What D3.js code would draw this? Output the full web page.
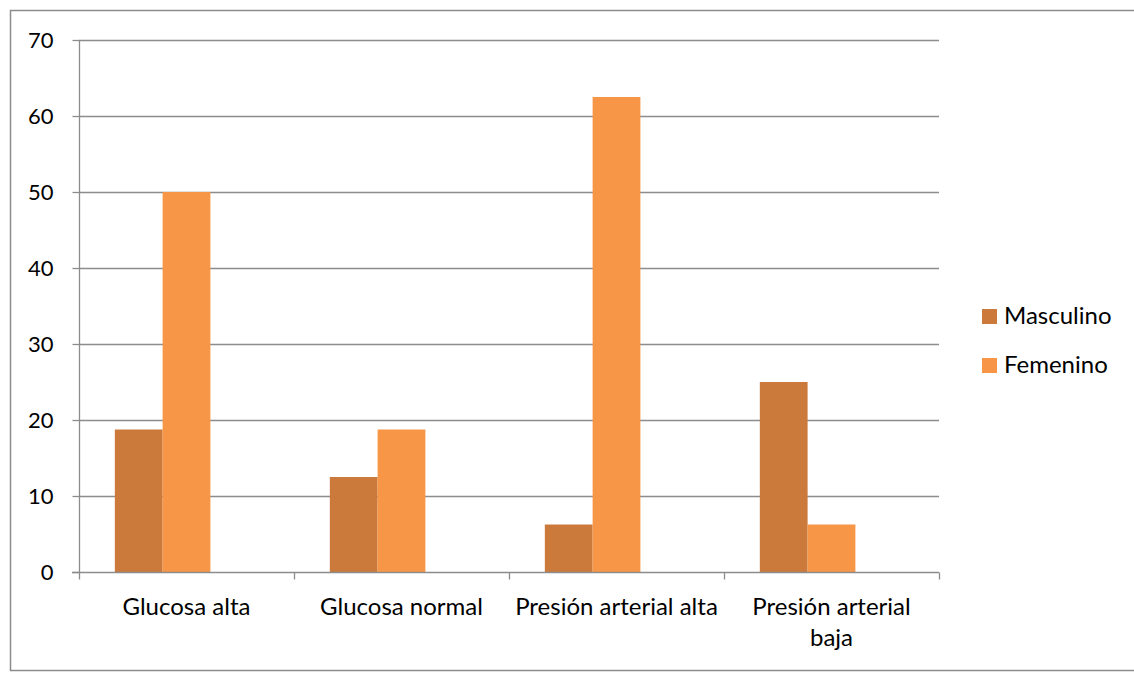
<!DOCTYPE html>
<html><head><meta charset="utf-8">
<script src="https://cdn.jsdelivr.net/npm/d3@7"></script>
<style>body{margin:0;background:#fff}svg{display:block}text{font-family:Lato,"Noto Sans",sans-serif;fill:#000}</style>
</head><body>
<svg id="c" width="1134" height="673"></svg>
<script>
const categories = ["Glucosa alta", "Glucosa normal", "Presión arterial alta", "Presión arterial baja"];
const seriesNames = ["Masculino", "Femenino"];
const masculino = [18.75, 12.5, 6.25, 25];
const femenino = [50, 18.75, 62.5, 6.25];
const yTicks = [0, 10, 20, 30, 40, 50, 60, 70];
const colors = ["#CB7A3B", "#F79646"];

const svg = d3.select("#c");
svg.append("rect").attr("x", 10.5).attr("y", 10.5).attr("width", 1130).attr("height", 660)
  .attr("fill", "none").attr("stroke", "#8c8c8c").attr("stroke-width", 1.5);

const L = 79, R = 939, T = 40, B = 572;
const x = d3.scaleBand().domain(categories).range([L, R]);
const y = d3.scaleLinear().domain([0, 70]).range([B, T]);
const slotCount = 3; // includes an empty slot as in the original layout
const bw = x.bandwidth() / (slotCount + 1.5);
const xs = d3.scaleBand().domain(d3.range(slotCount)).range([bw * 0.75, bw * 0.75 + bw * slotCount]);

// gridlines
svg.append("g").selectAll("line").data(yTicks.filter(d => d > 0)).join("line")
  .attr("x1", L).attr("x2", R).attr("y1", d => Math.round(y(d)) + 0.5).attr("y2", d => Math.round(y(d)) + 0.5)
  .attr("stroke", "#8c8c8c").attr("stroke-width", 1.3);

// bars
const data = [masculino, femenino];
data.forEach((vals, si) => {
  svg.append("g").selectAll("rect").data(vals).join("rect")
    .attr("x", (d, i) => x(categories[i]) + xs(si))
    .attr("width", xs.bandwidth())
    .attr("y", d => y(d))
    .attr("height", d => y(0) - y(d))
    .attr("fill", colors[si]);
});

// y axis
const yAxis = d3.axisLeft(y).tickValues(yTicks).tickSize(7).tickPadding(19).tickFormat(d3.format("d"));
const ga = svg.append("g").attr("transform", `translate(${L + 0.5},0)`).call(yAxis);
ga.attr("font-family", null).attr("font-size", null);
ga.selectAll("path,line").attr("stroke", "#8c8c8c").attr("stroke-width", 1.3);
ga.selectAll("text").style("font-size", "22px").attr("fill", "#000").attr("dy", "0.36em");
ga.select(".domain").attr("d", `M0,${T}V${B}`);

// x axis
const xa = svg.append("g").attr("transform", `translate(0,${B + 0.5})`);
xa.append("line").attr("x1", L - 7).attr("x2", R).attr("stroke", "#8c8c8c").attr("stroke-width", 1.3);
const bounds = categories.map(c => x(c)).concat([R]);
xa.selectAll("line.t").data(bounds).join("line").attr("class", "t")
  .attr("x1", d => Math.round(d) + 0.5).attr("x2", d => Math.round(d) + 0.5).attr("y1", 0).attr("y2", 7)
  .attr("stroke", "#8c8c8c").attr("stroke-width", 1.3);

const labelLines = [["Glucosa alta"], ["Glucosa normal"], ["Presión arterial alta"], ["Presión arterial", "baja"]];
categories.forEach((c, i) => {
  const t = svg.append("text").attr("x", x(c) + x.bandwidth() / 2).attr("y", 615)
    .attr("text-anchor", "middle").style("font-size", "24px");
  labelLines[i].forEach((ln, j) => t.append("tspan").attr("x", x(c) + x.bandwidth() / 2).attr("dy", j ? 31 : 0).text(ln));
});

// legend
const lg = svg.append("g");
seriesNames.forEach((s, i) => {
  const top = 309 + i * 49;
  lg.append("rect").attr("x", 982).attr("y", top).attr("width", 15).attr("height", 15).attr("fill", colors[i]);
  lg.append("text").attr("x", 1004).attr("y", top + 15).style("font-size", "24px").text(s);
});
</script>
</body></html>
